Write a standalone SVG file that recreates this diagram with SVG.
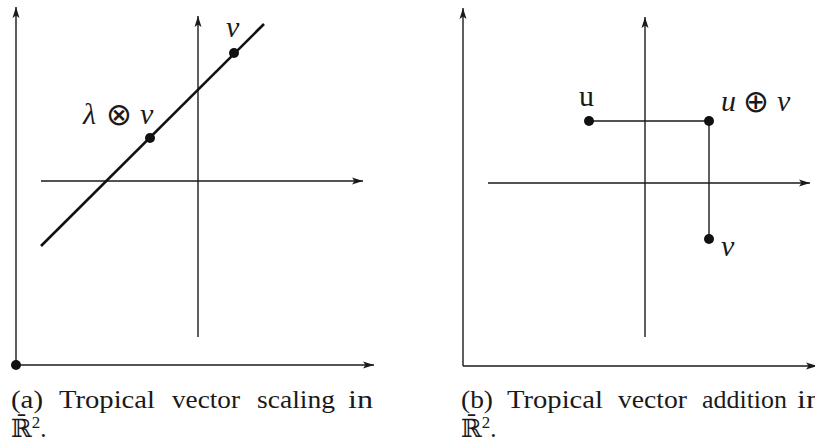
<svg xmlns="http://www.w3.org/2000/svg" width="815" height="443" viewBox="0 0 815 443">
<style>
.ax{stroke:#1a1a1a;stroke-width:1.4;fill:none}
.thick{stroke:#111;stroke-width:2.6;fill:none}
.dot{fill:#111}
.lbl{font-family:"Liberation Serif","DejaVu Serif",serif;font-size:30px;fill:#1a1a1a}
.it{font-style:italic}
.op{font-family:"DejaVu Sans",sans-serif;font-size:31px;font-style:normal;font-weight:normal}
.cap{font-family:"Liberation Serif","DejaVu Serif",serif;font-size:25px;fill:#1a1a1a}
</style>
<defs>
<marker id="arr" markerUnits="userSpaceOnUse" markerWidth="12" markerHeight="8" refX="11" refY="4" orient="auto">
<path d="M0,0.5 L11,4 L0,7.5 L2.5,4 z" fill="#1a1a1a"/>
</marker>
</defs>
<rect width="815" height="443" fill="#fff"/>

<g id="connectors">
<line class="ax" x1="16" y1="365" x2="16" y2="7" marker-end="url(#arr)"/>
<line class="ax" x1="16" y1="365" x2="374" y2="365" marker-end="url(#arr)"/>
<line class="ax" x1="198" y1="337" x2="198" y2="16" marker-end="url(#arr)"/>
<line class="ax" x1="41" y1="181" x2="363" y2="181" marker-end="url(#arr)"/>
<line class="thick" x1="41" y1="246" x2="264" y2="24"/>
<line class="ax" x1="463" y1="366" x2="463" y2="8" marker-end="url(#arr)"/>
<line class="ax" x1="463" y1="366" x2="817" y2="366" marker-end="url(#arr)"/>
<line class="ax" x1="645" y1="337" x2="645" y2="17" marker-end="url(#arr)"/>
<line class="ax" x1="488" y1="183" x2="810" y2="183" marker-end="url(#arr)"/>
<line class="ax" x1="589" y1="121" x2="709" y2="121"/>
<line class="ax" x1="709" y1="121" x2="709" y2="239"/>
</g>

<g id="origin-a"><circle class="dot" cx="16" cy="365" r="5"/></g>
<g id="v-a"><circle class="dot" cx="234" cy="53" r="5"/><text class="lbl it" x="226" y="37">v</text></g>
<g id="lv-a"><circle class="dot" cx="150" cy="138" r="5"/><text class="lbl"><tspan class="it" x="83" y="124">λ</tspan><tspan class="op" x="106" y="125">⊗</tspan><tspan class="it" x="140" y="124">v</tspan></text></g>

<g id="u-b"><circle class="dot" cx="589" cy="121" r="5"/><text class="lbl" x="579" y="106">u</text></g>
<g id="upv-b"><circle class="dot" cx="709" cy="121" r="5"/><text class="lbl"><tspan class="it" x="721" y="111">u</tspan><tspan class="op" x="743" y="112">⊕</tspan><tspan class="it" x="777" y="111">v</tspan></text></g>
<g id="v-b"><circle class="dot" cx="709" cy="239" r="5"/><text class="lbl it" x="721" y="256">v</text></g>

<g id="caption-a" class="cap">
<text x="11" y="408" textLength="32" lengthAdjust="spacingAndGlyphs">(a)</text>
<text x="59" y="408" textLength="96" lengthAdjust="spacingAndGlyphs">Tropical</text>
<text x="172" y="408" textLength="68" lengthAdjust="spacingAndGlyphs">vector</text>
<text x="257" y="408" textLength="78" lengthAdjust="spacingAndGlyphs">scaling</text>
<text x="348" y="408" textLength="25" lengthAdjust="spacingAndGlyphs">in</text>
<text x="11" y="437">ℝ̄<tspan dy="-9" font-size="17">2</tspan><tspan dy="9">.</tspan></text>
</g>
<g id="caption-b" class="cap">
<text x="461" y="408" textLength="32" lengthAdjust="spacingAndGlyphs">(b)</text>
<text x="507" y="408" textLength="96" lengthAdjust="spacingAndGlyphs">Tropical</text>
<text x="618" y="408" textLength="69" lengthAdjust="spacingAndGlyphs">vector</text>
<text x="702" y="408" textLength="85" lengthAdjust="spacingAndGlyphs">addition</text>
<text x="797" y="408" textLength="25" lengthAdjust="spacingAndGlyphs">in</text>
<text x="461" y="437">ℝ̄<tspan dy="-9" font-size="17">2</tspan><tspan dy="9">.</tspan></text>
</g>
</svg>
